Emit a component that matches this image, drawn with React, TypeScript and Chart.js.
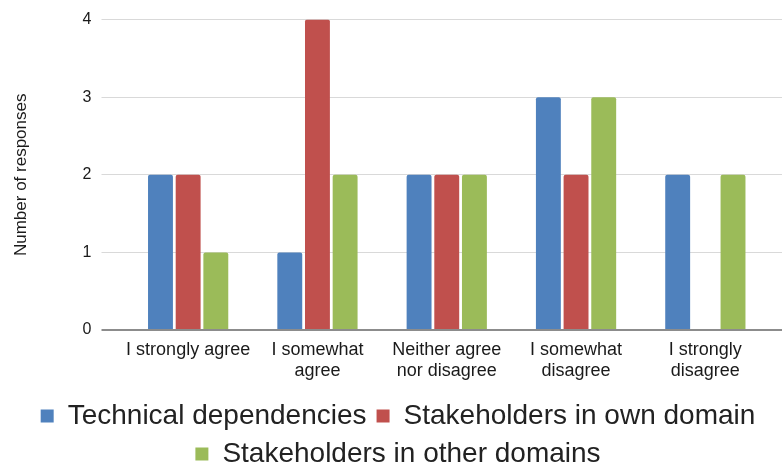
import React, { useEffect, useRef } from "react";
import { Chart, registerables } from "chart.js";

Chart.register(...registerables);

// Survey answers, one entry per response option
const CATEGORIES: (string | string[])[] = [
  "I strongly agree",
  ["I somewhat", "agree"],
  ["Neither agree", "nor disagree"],
  ["I somewhat", "disagree"],
  ["I strongly", "disagree"],
];

const SERIES_NAMES = [
  "Technical dependencies",
  "Stakeholders in own domain",
  "Stakeholders in other domains",
];

const TECHNICAL_DEPENDENCIES = [2, 1, 2, 3, 2];
const OWN_DOMAIN = [2, 4, 2, 2, 0];
const OTHER_DOMAINS = [1, 2, 2, 3, 2];

const SERIES_COLORS = ["#4F81BD", "#C0504D", "#9BBB59"];

const Y_MIN = 0;
const Y_MAX = 4;
const Y_STEP = 1;
const Y_TITLE = "Number of responses";

const FONT = "'Liberation Sans', Arial, Helvetica, sans-serif";
const GRID_COLOR = "#d9d9d9";
const BASE_COLOR = "#8c8c8c";

const isBase = (value: number) => value === 0;
const gridColor = (ctx: any) => (ctx.tick && isBase(ctx.tick.value) ? BASE_COLOR : GRID_COLOR);
const gridWidth = (ctx: any) => (ctx.tick && isBase(ctx.tick.value) ? 2 : 1);

// Carries the horizontal gridlines on past the right edge of the plot area
const gridExtension = {
  id: "gridExtension",
  beforeDatasetsDraw(chart: any) {
    const scale = chart.scales.y;
    const { ctx, chartArea } = chart;
    ctx.save();
    scale.ticks.forEach((tick: any, i: number) => {
      const width = isBase(tick.value) ? 2 : 1;
      const half = width / 2;
      const py = Math.round(scale.getPixelForTick(i) - half) + half;
      ctx.strokeStyle = isBase(tick.value) ? BASE_COLOR : GRID_COLOR;
      ctx.lineWidth = width;
      ctx.beginPath();
      ctx.moveTo(chartArea.right, py);
      ctx.lineTo(chart.width, py);
      ctx.stroke();
    });
    ctx.restore();
  },
};

export default function App() {
  const canvasRef = useRef<HTMLCanvasElement | null>(null);

  useEffect(() => {
    document.body.style.margin = "0";
    const canvas = canvasRef.current;
    if (!canvas) return;

    const values = [TECHNICAL_DEPENDENCIES, OWN_DOMAIN, OTHER_DOMAINS];

    const chart = new Chart(canvas, {
      type: "bar",
      data: {
        labels: CATEGORIES,
        datasets: values.map((data, i) => ({
          label: SERIES_NAMES[i],
          data,
          backgroundColor: SERIES_COLORS[i],
          borderWidth: 0,
          borderRadius: 2,
          categoryPercentage: 0.642,
          barPercentage: 0.9,
        })),
      },
      plugins: [gridExtension],
      options: {
        animation: false,
        responsive: true,
        maintainAspectRatio: false,
        devicePixelRatio: 1,
        layout: { padding: { top: 17, left: 0, right: -14, bottom: -9 } },
        plugins: {
          tooltip: { enabled: false },
          legend: {
            position: "bottom",
            align: "center",
            labels: {
              color: "#222",
              font: { family: FONT, size: 28 },
              boxWidth: 13,
              boxHeight: 13,
              padding: 10,
            },
          },
        },
        scales: {
          x: {
            grid: { display: false, drawTicks: false },
            border: { display: false },
            ticks: {
              color: "#1a1a1a",
              font: { family: FONT, size: 18, lineHeight: 1.15 },
              padding: 10,
              maxRotation: 0,
              autoSkip: false,
            },
            afterFit: (scale: any) => {
              scale.height = 62;
            },
          },
          y: {
            min: Y_MIN,
            max: Y_MAX,
            ticks: {
              stepSize: Y_STEP,
              color: "#1a1a1a",
              font: { family: FONT, size: 16 },
              padding: 10,
            },
            grid: {
              color: gridColor,
              lineWidth: gridWidth,
              tickColor: gridColor,
              tickWidth: gridWidth,
              tickLength: 22,
              drawTicks: true,
            },
            border: { display: false },
            title: {
              display: true,
              text: Y_TITLE,
              color: "#1a1a1a",
              font: { family: FONT, size: 17 },
              padding: { top: 11, bottom: 0 },
            },
            afterFit: (scale: any) => {
              scale.width = 123.5;
            },
          },
          // empty strip on the right that the gridlines run across
          yRight: {
            position: "right",
            min: Y_MIN,
            max: Y_MAX,
            ticks: { stepSize: Y_STEP, display: false },
            grid: { display: false },
            border: { display: false },
            afterFit: (scale: any) => {
              scale.width = 26;
            },
          },
        },
      },
    });

    return () => chart.destroy();
  }, []);

  return (
    <div style={{ position: "fixed", left: 0, top: 0, width: 782, height: 469, background: "#fff" }}>
      <canvas ref={canvasRef} />
    </div>
  );
}
